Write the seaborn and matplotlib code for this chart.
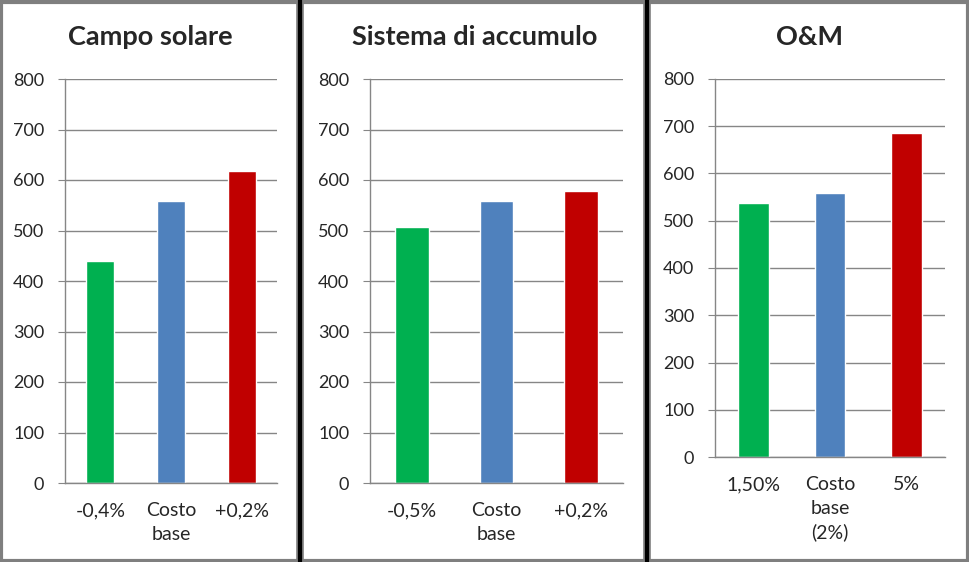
import matplotlib
matplotlib.use("Agg")
import matplotlib.pyplot as plt
import seaborn as sns
import pandas as pd
from matplotlib.patches import Rectangle
from matplotlib.lines import Line2D
from matplotlib.ticker import FixedLocator

sns.set_style("white")
plt.rcParams['font.family'] = ['Lato', 'DejaVu Sans']

titles = ["Campo solare", "Sistema di accumulo", "O&M"]
labels_1 = ["-0,4%", "Costo\nbase", "+0,2%"]
labels_2 = ["-0,5%", "Costo\nbase", "+0,2%"]
labels_3 = ["1,50%", "Costo\nbase\n(2%)", "5%"]
values_1 = [439, 558, 618]
values_2 = [506, 558, 578]
values_3 = [537, 558, 685]
colors = ["#00B050", "#4F81BD", "#C00000"]
yticks = [0, 100, 200, 300, 400, 500, 600, 700, 800]

W, H = 970, 562
fig = plt.figure(figsize=(W / 100, H / 100), dpi=100)

# axes rects in pixels: left, right, top(y=800), bottom(y=0)
rects = [(65, 277, 79, 483), (370, 623, 79, 483), (715, 945, 79, 457)]
title_x = [150, 475, 810]
panels = [(labels_1, values_1), (labels_2, values_2), (labels_3, values_3)]

grid_c = "#868686"
for (l, r, t, b), (labs, vals), title, tx in zip(rects, panels, titles, title_x):
    ax = fig.add_axes([l / W, 1 - b / H, (r - l) / W, (b - t) / H])
    df = pd.DataFrame({"cat": labs, "val": vals})
    sns.barplot(data=df, x="cat", y="val", hue="cat", palette=colors,
                width=0.4, legend=False, ax=ax, saturation=1)
    ax.set_xlim(-0.5, 2.5)
    ax.set_ylim(0, 800)
    ax.yaxis.set_major_locator(FixedLocator(yticks))
    ax.set_yticklabels([str(v) for v in yticks])
    ax.grid(axis="y", color=grid_c, lw=1)
    ax.set_axisbelow(True)
    for s in ["top", "right"]:
        ax.spines[s].set_visible(False)
    for s in ["left", "bottom"]:
        ax.spines[s].set_color(grid_c)
        ax.spines[s].set_linewidth(1)
    ax.set_xlabel("")
    ax.set_ylabel("")
    ax.set_xticks([0, 1, 2])
    ax.set_xticklabels(labs, fontsize=14, linespacing=1.45)
    ax.set_xticks([-0.5, 0.5, 1.5, 2.5], minor=True)
    ax.tick_params(axis="x", which="major", length=0, pad=14)
    ax.tick_params(axis="x", which="minor", length=5, color=grid_c, direction="out")
    ax.tick_params(axis="y", length=5, color=grid_c, direction="out", labelsize=13, pad=10, left=True)
    for lbl in ax.get_xticklabels():
        lbl.set_verticalalignment("top")
    fig.text(tx / W, 1 - 37 / H, title, ha="center", va="center",
             fontsize=19.5, fontweight="bold")

# frame
gray = "#7F7F7F"
fig.add_artist(Rectangle((1.5 / W, 1.5 / H), (W - 3) / W, (H - 3) / H,
                         transform=fig.transFigure, fill=False, ec=gray, lw=3))
for x in [300, 647]:
    fig.add_artist(Line2D([x / W, x / W], [0, 1], transform=fig.transFigure,
                          color=gray, lw=5.5))
    fig.add_artist(Line2D([x / W, x / W], [0, 1], transform=fig.transFigure,
                          color="black", lw=3))

fig.savefig("out.png", dpi=100)
